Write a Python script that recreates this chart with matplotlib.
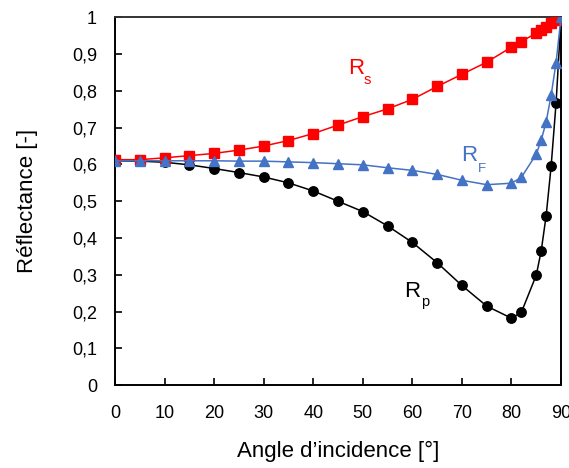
import matplotlib.pyplot as plt
from matplotlib.ticker import FuncFormatter

plt.rcParams['font.family'] = ['Liberation Sans', 'DejaVu Sans']

angles = [0, 5, 10, 15, 20, 25, 30, 35, 40, 45, 50, 55, 60, 65, 70, 75, 80, 82, 85, 86, 87, 88, 89, 90]
r_s = [0.613, 0.613, 0.618, 0.624, 0.630, 0.639, 0.650, 0.665, 0.684, 0.707, 0.730, 0.751, 0.777, 0.812, 0.845, 0.878, 0.919, 0.934, 0.957, 0.966, 0.975, 0.984, 0.992, 1.0]
r_p = [0.610, 0.609, 0.606, 0.599, 0.589, 0.578, 0.566, 0.550, 0.528, 0.500, 0.472, 0.433, 0.388, 0.333, 0.271, 0.215, 0.182, 0.198, 0.299, 0.365, 0.461, 0.595, 0.767, 1.0]
r_f = [0.610, 0.610, 0.610, 0.610, 0.610, 0.609, 0.609, 0.607, 0.605, 0.602, 0.599, 0.591, 0.584, 0.573, 0.557, 0.545, 0.549, 0.565, 0.628, 0.666, 0.716, 0.788, 0.877, 1.0]

fig = plt.figure(figsize=(5.69, 4.68), dpi=100)
ax = fig.add_axes([0.202, 0.177, 0.784, 0.786])

ax.plot(angles, r_p, color='black', lw=1.1, marker='o', ms=6.8, zorder=3)
ax.plot(angles, r_s, color='#ff0000', lw=1.1, marker='s', ms=6.6, zorder=4)
ax.plot(angles, r_f, color='#4472c4', lw=1.1, marker='^', ms=7, zorder=5)

# curve labels with subscripts
ax.text(47.0, 0.845, 'R', color='#ff0000', fontsize=16)
ax.text(50.2, 0.818, 's', color='#ff0000', fontsize=10.5)
ax.text(69.9, 0.610, 'R', color='#4472c4', fontsize=16)
ax.text(73.3, 0.580, 'F', color='#4472c4', fontsize=9.5)
ax.text(58.4, 0.240, 'R', color='black', fontsize=16)
ax.text(61.8, 0.215, 'p', color='black', fontsize=10.5)

ax.set_xlim(0, 90)
ax.set_ylim(0, 1)
ax.set_xticks(range(0, 91, 10))
ax.set_yticks([i / 10 for i in range(11)])
ax.yaxis.set_major_formatter(FuncFormatter(lambda v, p: ('%.1f' % v).rstrip('0').rstrip('.').replace('.', ',')))
ax.tick_params(direction='in', length=5, width=1.2, labelsize=13)
ax.tick_params(axis='x', pad=14)
ax.tick_params(axis='y', pad=13)

for s in ax.spines.values():
    s.set_linewidth(1.4)
ax.spines['top'].set_color('#333333')

ax.set_xlabel('Angle d\u2019incidence [°]', fontsize=16, labelpad=14)
ax.set_ylabel('Réflectance [-]', fontsize=16, labelpad=24)

fig.savefig('out.png', dpi=100)
